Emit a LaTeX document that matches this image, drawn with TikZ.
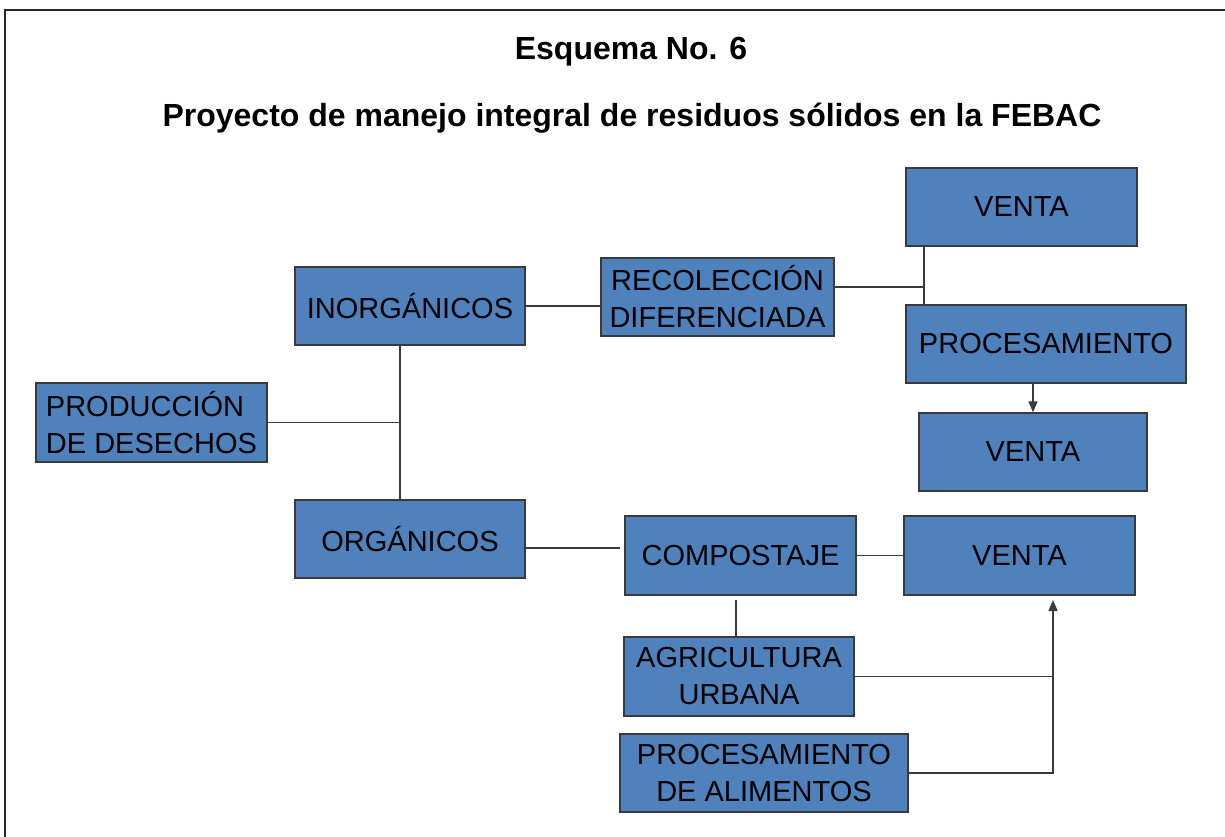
\documentclass[tikz,border=0pt]{standalone}
\usepackage{fontspec}
\setmainfont{Liberation Sans}
\usetikzlibrary{arrows.meta,calc}
\definecolor{boxblue}{HTML}{4F81BD}
\definecolor{edgegray}{HTML}{3A3A3A}
\tikzset{
  stepbox/.style={draw=edgegray, line width=1.3pt, fill=boxblue, inner sep=0pt,
    align=center, font=\fontsize{29}{37}\selectfont, text=black},
  link/.style={draw=edgegray, line width=1.3pt},
  arr/.style={link, -{Triangle[length=11pt,width=9pt]}},
  titletext/.style={font=\bfseries\fontsize{32}{38}\selectfont, text=black, anchor=base}
}
\begin{document}
\begin{tikzpicture}[x=1pt,y=-1pt]
\useasboundingbox (0,0) rectangle (1225,837);
% frame (only top and left edges visible)
\draw[line width=2.4pt, black!85] (1225,10) -- (5,10) -- (5,837);

% titles
\node[titletext] (t1) at (631,60) {Esquema No. 6};
\node[titletext] (t2) at (632,127) {Proyecto de manejo integral de residuos sólidos en la FEBAC};

% boxes
\node[stepbox, minimum width=231pt, minimum height=78pt] (venta1) at (1021.5,207) {VENTA};
\node[stepbox, minimum width=233pt, minimum height=78pt] (recol) at (717.5,297) {RECOLECCIÓN\\DIFERENCIADA};
\node[stepbox, minimum width=230pt, minimum height=78pt] (inorg) at (410,306) {INORGÁNICOS};
\node[stepbox, minimum width=280pt, minimum height=78pt] (proc) at (1046,344) {PROCESAMIENTO};
\node[stepbox, minimum width=231pt, minimum height=79pt, align=left] (prod) at (151.5,422.5) {PRODUCCIÓN\\DE DESECHOS};
\node[stepbox, minimum width=228pt, minimum height=78pt] (venta2) at (1033,452) {VENTA};
\node[stepbox, minimum width=230pt, minimum height=78pt] (org) at (410,539) {ORGÁNICOS};
\node[stepbox, minimum width=231pt, minimum height=79pt] (comp) at (740.5,555.5) {COMPOSTAJE};
\node[stepbox, minimum width=231pt, minimum height=79pt] (venta3) at (1019.5,555.5) {VENTA};
\node[stepbox, minimum width=230pt, minimum height=79pt] (agri) at (739,676.5) {AGRICULTURA\\URBANA};
\node[stepbox, minimum width=288pt, minimum height=78pt] (alim) at (764,773) {PROCESAMIENTO\\DE ALIMENTOS};

% junction coordinates
\coordinate (jx) at (400,424);
\coordinate (jr) at (924,287);
\coordinate (jo) at (620,548);
\coordinate (jc) at (736,600);
\coordinate (ja) at (1053,677);
\coordinate (tip) at (1053,600);

% connectors: left tree
\draw[link] (inorg.south -| jx) -- (org.north -| jx);
\draw[link] (prod.east) -- (prod.east -| jx);
\draw[link] (inorg.east) -- (inorg.east -| recol.west);

% recolección branch
\draw[link] (recol.east |- jr) -- (jr);
\draw[link] (jr |- venta1.south) -- (jr |- proc.north);
\draw[arr] (proc.south -| venta2.north) -- (venta2.north);

% orgánicos branch
\draw[link] (org.east |- jo) -- (jo);
\draw[link] (comp.east) -- (venta3.west);
\draw[link] (jc) -- (jc |- agri.north);
\draw[link] (agri.east) -- (agri.east -| ja);
\draw[arr] (alim.east) -- (alim.east -| ja) -- (tip);
\end{tikzpicture}
\end{document}
